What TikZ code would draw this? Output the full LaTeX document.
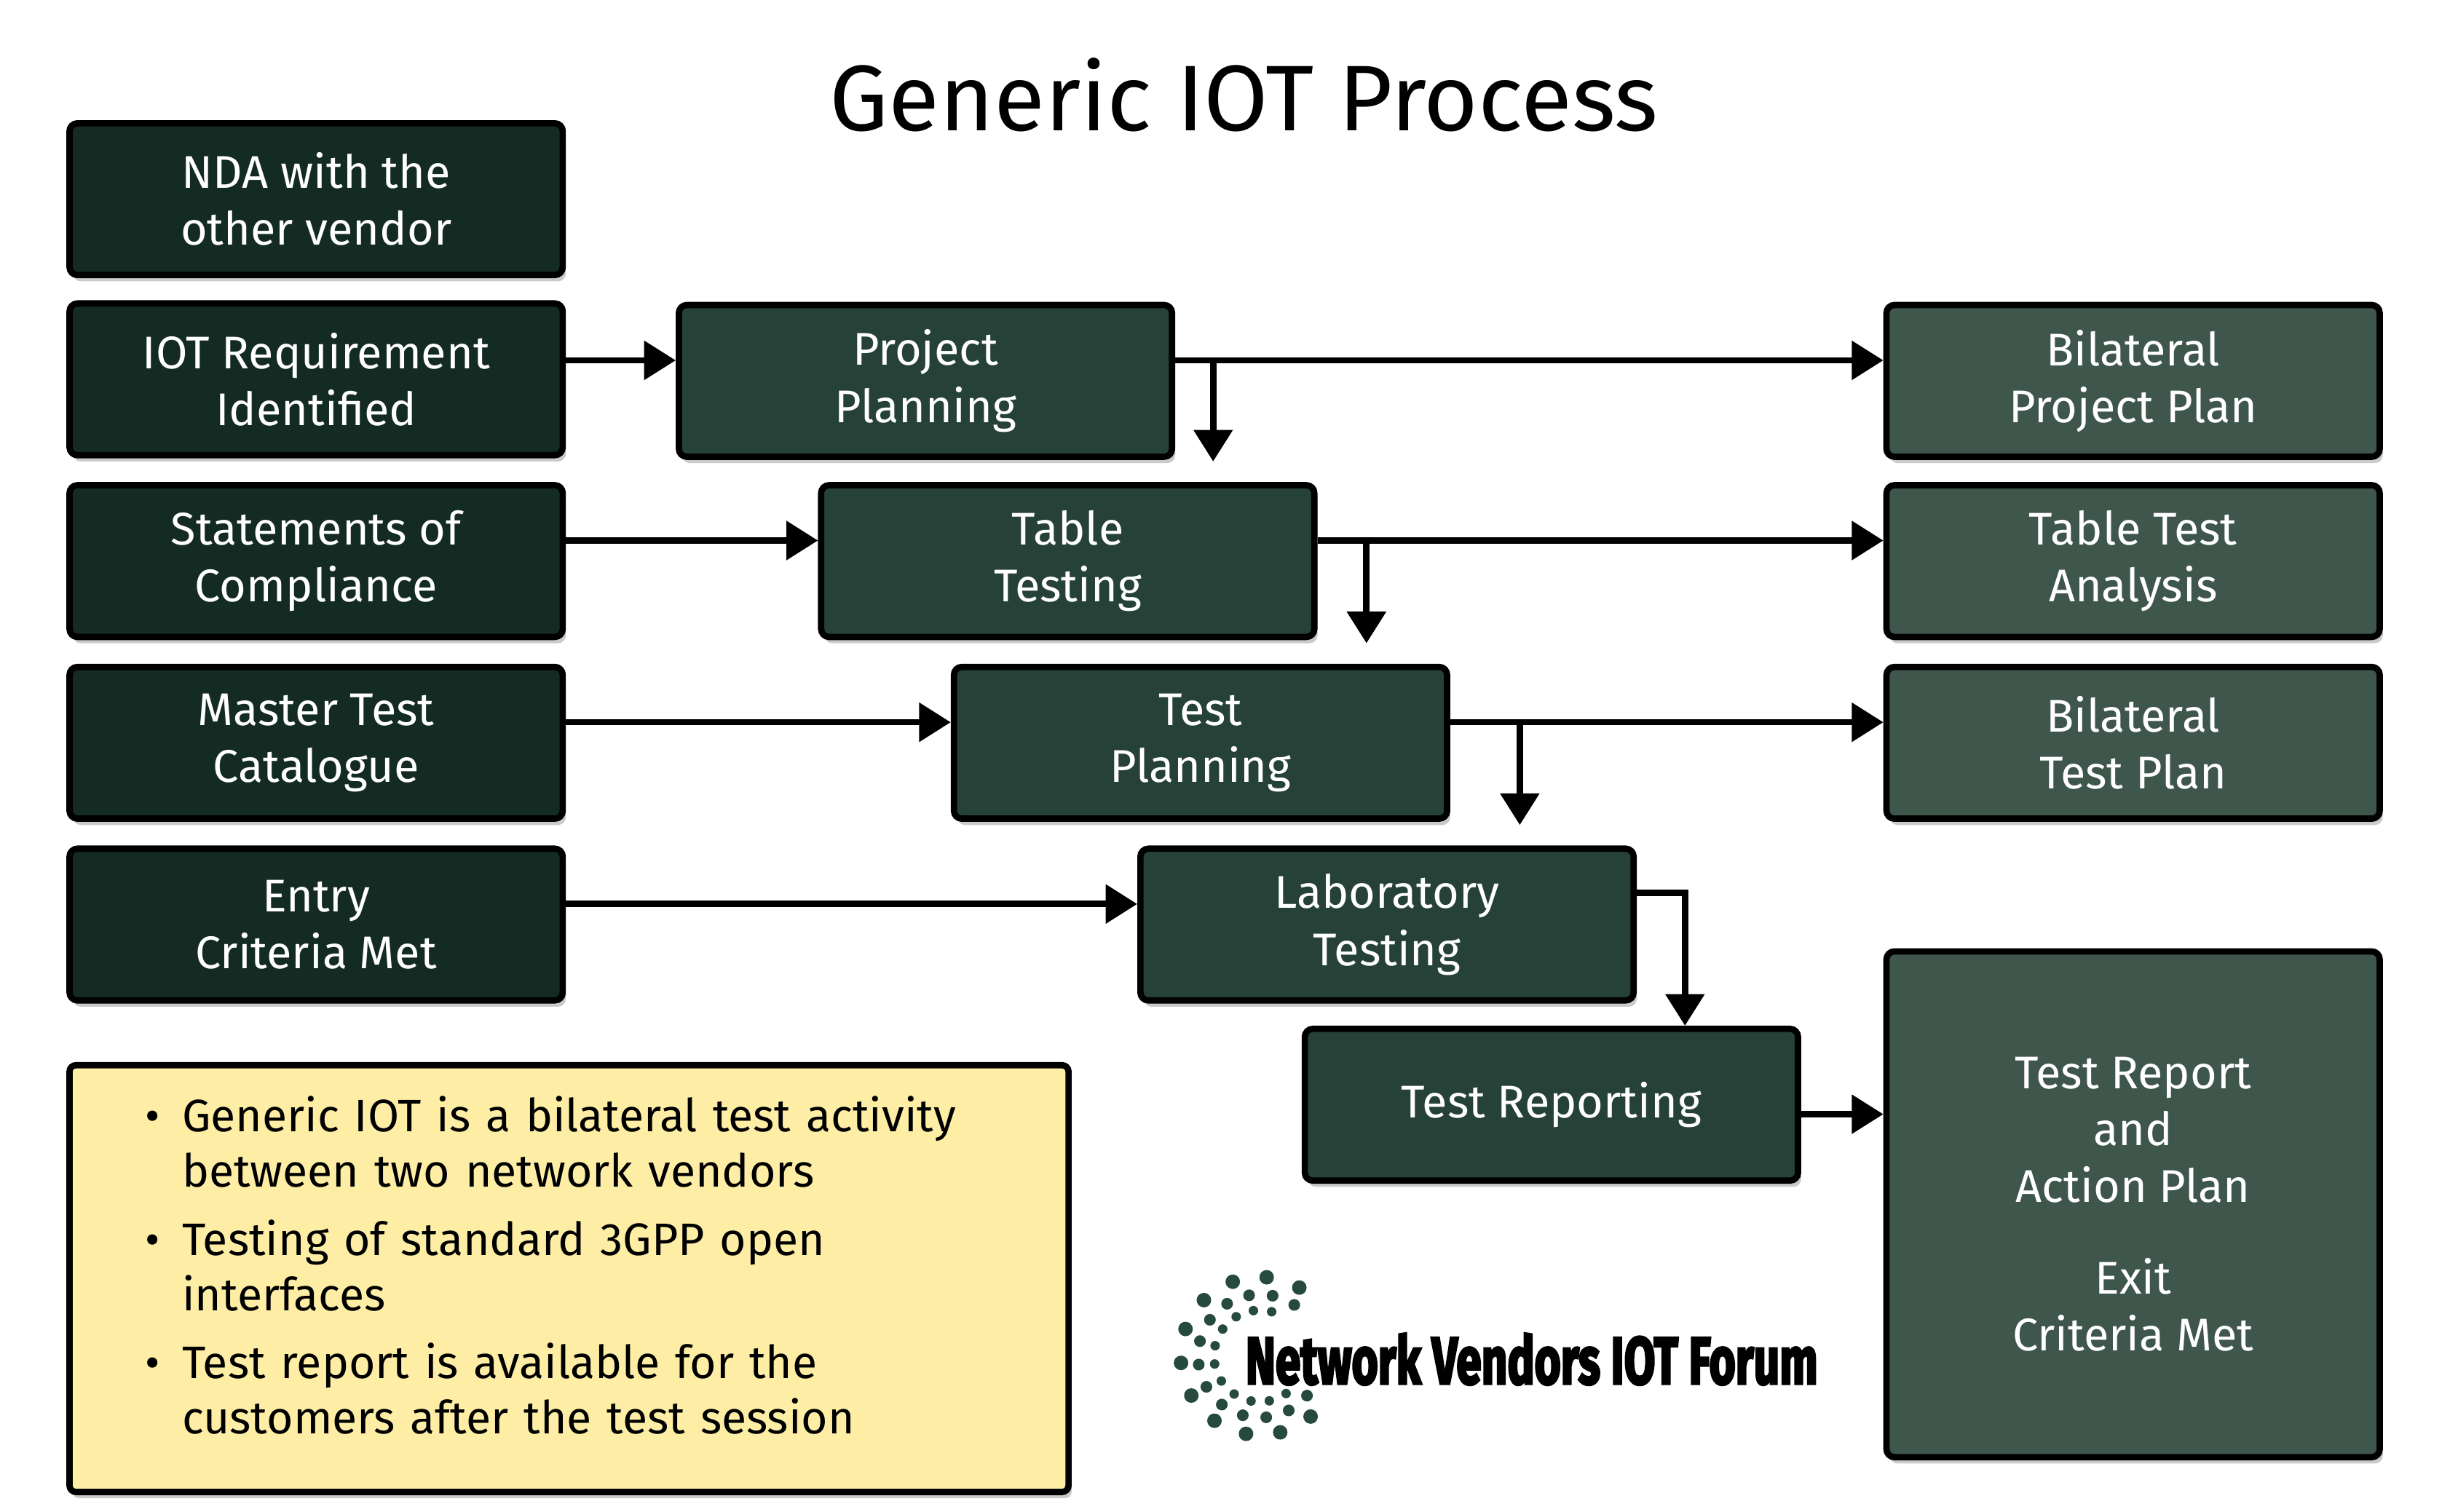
\documentclass[tikz,border=0pt]{standalone}
\usepackage{fontspec}
\setmainfont{Fira Sans}
\usetikzlibrary{arrows.meta,shadows,calc}
\definecolor{cL}{HTML}{132B22}
\definecolor{cM}{HTML}{264238}
\definecolor{cR}{HTML}{3F564C}
\definecolor{cY}{HTML}{FEEEA5}
\definecolor{cDot}{HTML}{264A3D}
\begin{document}
\begin{tikzpicture}[x=1pt,y=-1pt,
  box/.style={draw=black,line width=4pt,rounded corners=5pt,minimum width=312pt,minimum height=96pt,
    text=white,align=center,font=\fontsize{29}{36}\selectfont,
    drop shadow={shadow xshift=2pt,shadow yshift=-4pt,fill=black!35,opacity=0.6}},
  arr/.style={line width=4pt,-{Triangle[length=20pt,width=24pt]}}]
\useasboundingbox (0,0) rectangle (1550,956.7);
\node at (787,60) {\fontsize{59}{60}\selectfont Generic IOT Process};
% left
\node[box,fill=cL] (nda) at (200,126) {NDA with the\\other vendor};
\node[box,fill=cL] (iot) at (200,240) {IOT Requirement\\Identified};
\node[box,fill=cL] (soc) at (200,355) {Statements of\\Compliance};
\node[box,fill=cL] (mtc) at (200,470) {Master Test\\Catalogue};
\node[box,fill=cL] (ecm) at (200,585) {Entry\\Criteria Met};
% middle
\node[box,fill=cM] (pp) at (585.5,241) {Project\\Planning};
\node[box,fill=cM] (tt) at (675.5,355) {Table\\Testing};
\node[box,fill=cM] (tp) at (759.5,470) {Test\\Planning};
\node[box,fill=cM] (lt) at (877.5,585) {Laboratory\\Testing};
\node[box,fill=cM] (tr) at (981.5,699) {Test Reporting};
% right
\node[box,fill=cR] (bpp) at (1349.5,241) {Bilateral\\Project Plan};
\node[box,fill=cR] (tta) at (1349.5,355) {Table Test\\Analysis};
\node[box,fill=cR] (btp) at (1349.5,470) {Bilateral\\Test Plan};
\node[box,fill=cR,minimum height=320pt] (rep) at (1349.5,762) {Test Report\\and\\Action Plan\\[22pt]Exit\\Criteria Met};
% arrows
\draw[arr] ([yshift=12pt]iot.east) -- ([yshift=12pt]iot.east -| pp.west);
\draw[arr] ([yshift=13pt]pp.east) -- ([yshift=13pt]pp.east -| bpp.west);
\draw[arr] ([xshift=24pt,yshift=13pt]pp.east) -- ([xshift=24pt,yshift=13pt]pp.east |- tt.north);
\draw[arr] ([yshift=13pt]soc.east) -- ([yshift=13pt]soc.east -| tt.west);
\draw[arr] ([yshift=13pt]tt.east) -- ([yshift=13pt]tt.east -| tta.west);
\draw[arr] ([xshift=31pt,yshift=13pt]tt.east) -- ([xshift=31pt,yshift=13pt]tt.east |- tp.north);
\draw[arr] ([yshift=13pt]mtc.east) -- ([yshift=13pt]mtc.east -| tp.west);
\draw[arr] ([yshift=13pt]tp.east) -- ([yshift=13pt]tp.east -| btp.west);
\draw[arr] ([xshift=44pt,yshift=13pt]tp.east) -- ([xshift=44pt,yshift=13pt]tp.east |- lt.north);
\draw[arr] ([yshift=13pt]ecm.east) -- ([yshift=13pt]ecm.east -| lt.west);
\draw[arr] ([yshift=20pt]lt.east) -| ([xshift=84.5pt]tr.north);
\draw[arr] ([yshift=-6pt]tr.east) -- ([yshift=-6pt]tr.east -| rep.west);
% info box
\node[draw=black,line width=4pt,rounded corners=4pt,fill=cY,minimum width=632pt,minimum height=270pt,
  drop shadow={shadow xshift=2pt,shadow yshift=-4pt,fill=black!35,opacity=0.6}] (info) at (360,809) {};
\node[anchor=north west,text width=530pt,font=\fontsize{28.8}{35}\selectfont,inner sep=0pt] (itxt) at (90,673) {%
\begin{itemize}\setlength{\itemsep}{4pt}\setlength{\leftmargin}{28pt}\setlength{\labelsep}{14pt}
\item[\textbullet] Generic IOT is a bilateral test activity between two network vendors
\item[\textbullet] Testing of standard 3GPP open interfaces
\item[\textbullet] Test report is available for the customers after the test session
\end{itemize}};
% logo
\foreach \a in {50,75,...,310} \fill[cDot] (797,858) ++(\a:50) circle[radius=4.6];
\foreach \a in {40,62,...,320} \fill[cDot] (797,858) ++(\a:39) circle[radius=3.7];
\foreach \a in {55,78,...,305} \fill[cDot] (797,858) ++(\a:29) circle[radius=3.0];
\node[xscale=0.68,font=\fontsize{42}{42}\selectfont\bfseries\addfontfeatures{FakeBold=4}] (logo) at (969,860) {Network Vendors IOT Forum};
\end{tikzpicture}
\end{document}
